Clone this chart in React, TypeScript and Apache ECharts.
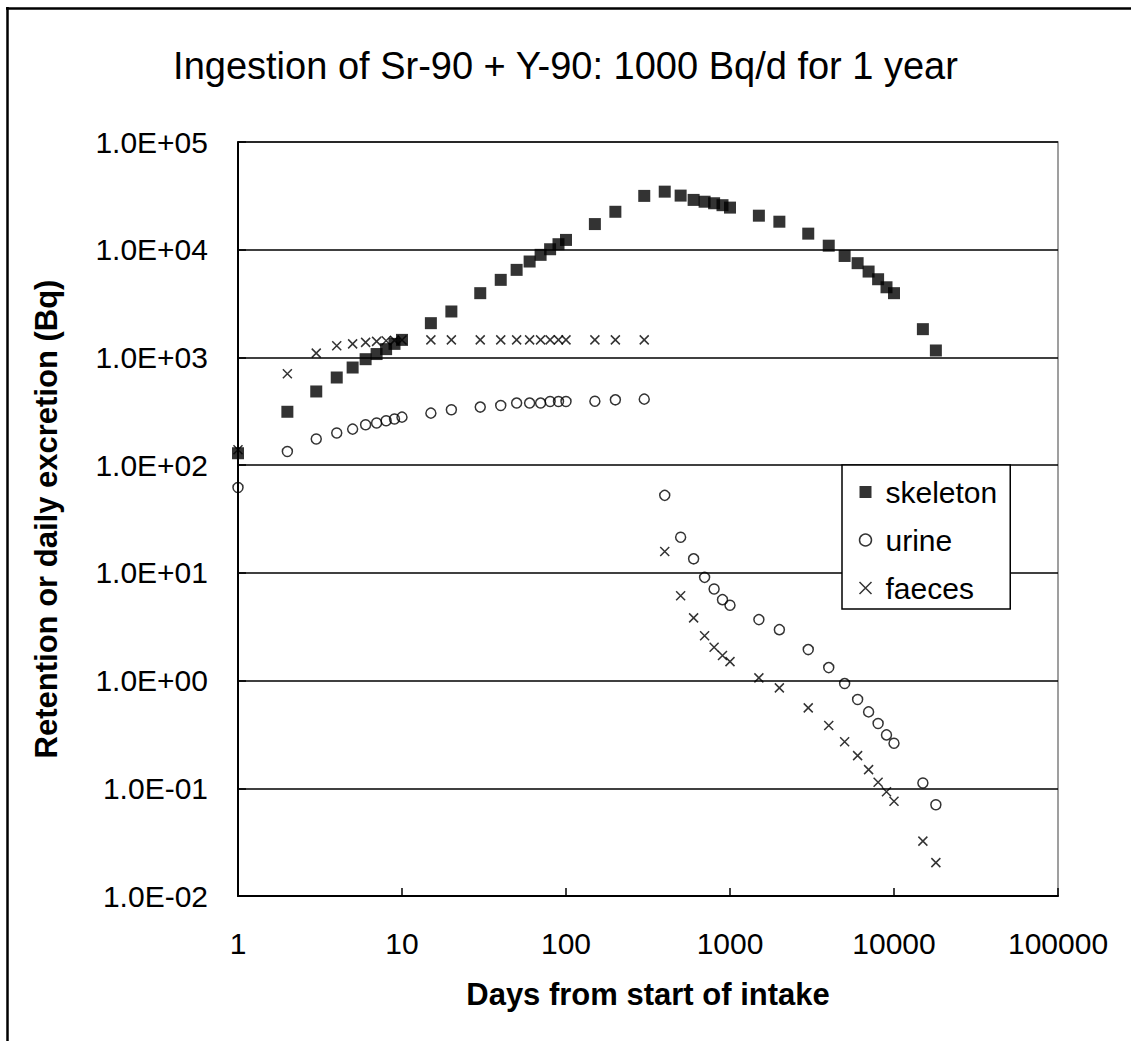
import React, { useEffect, useRef } from "react";
import * as echarts from "echarts";

const days = [1, 2, 3, 4, 5, 6, 7, 8, 9, 10, 15, 20, 30, 40, 50, 60, 70, 80, 90, 100, 150, 200, 300];
const daysAfter = [400, 500, 600, 700, 800, 900, 1000, 1500, 2000, 3000, 4000, 5000, 6000, 7000, 8000, 9000, 10000, 15000, 18000];

const skeletonIntake = [129, 313, 483, 651, 806, 963, 1075, 1194, 1336, 1455, 2080, 2670, 3950, 5250, 6500, 7770, 8960, 10100, 11250, 12330, 17300, 22500, 31600];
const skeletonAfter = [34600, 31800, 29000, 27900, 27000, 25900, 24600, 20700, 18200, 14100, 10900, 8750, 7500, 6270, 5320, 4480, 3950, 1830, 1160];

const urineIntake = [62, 134, 175, 199, 216, 237, 246, 258, 268, 279, 304, 327, 346, 358, 377, 377, 377, 390, 390, 390, 392, 404, 410];
const urineAfter = [52.4, 21.4, 13.5, 9.08, 7.09, 5.64, 5.0, 3.68, 2.97, 1.94, 1.32, 0.938, 0.667, 0.512, 0.399, 0.313, 0.262, 0.112, 0.0703];

const faecesIntake = [139, 705, 1096, 1282, 1336, 1380, 1410, 1430, 1440, 1450, 1455, 1455, 1455, 1455, 1455, 1455, 1455, 1455, 1455, 1455, 1455, 1455, 1455];
const faecesAfter = [15.8, 6.13, 3.82, 2.61, 2.04, 1.71, 1.5, 1.06, 0.855, 0.558, 0.383, 0.27, 0.201, 0.149, 0.114, 0.093, 0.0759, 0.0323, 0.0204];

const xTicks = [1, 10, 100, 1000, 10000, 100000];
const yTicks = [0.01, 0.1, 1, 10, 100, 1000, 10000, 100000];

const titleText = "Ingestion of Sr-90 + Y-90: 1000 Bq/d for 1 year";
const xName = "Days from start of intake";
const yName = "Retention or daily excretion (Bq)";
const seriesNames = ["skeleton", "urine", "faeces"];

function pairs(xs: number[], ys: number[]) {
  return xs.map((x, i) => [x, ys[i]]);
}

function sci(v: number) {
  const e = Math.round(Math.log10(v));
  const m = v / Math.pow(10, e);
  const sign = e < 0 ? "-" : "+";
  const ab = Math.abs(e);
  return m.toFixed(1) + "E" + sign + (ab < 10 ? "0" + ab : String(ab));
}

const FONT = "Liberation Sans, Arial, sans-serif";
const CROSS = "path://M0,0L10,10M10,0L0,10";

export default function App() {
  const ref = useRef<HTMLDivElement>(null);
  useEffect(() => {
    if (!ref.current) return;
    const chart = echarts.init(ref.current, undefined, { renderer: "svg" });
    const allDays = days.concat(daysAfter);
    chart.setOption({
      animation: false,
      backgroundColor: "#fff",
      textStyle: { fontFamily: FONT },
      title: {
        text: titleText,
        left: "center",
        top: 42,
        textStyle: { fontFamily: FONT, fontSize: 38, fontWeight: "normal", color: "#000" },
      },
      grid: {
        left: 238,
        right: 73,
        top: 142,
        bottom: 145,
        show: true,
        borderColor: "#808080",
        borderWidth: 1.5,
      },
      legend: {
        orient: "vertical",
        left: 842,
        top: 465,
        padding: [12, 13, 6, 15],
        itemGap: 18,
        itemWidth: 12,
        itemHeight: 12,
        borderColor: "#000",
        borderWidth: 1.5,
        backgroundColor: "#fff",
        textStyle: { fontFamily: FONT, fontSize: 30, color: "#000", lineHeight: 30, padding: [0, 0, 0, 9] },
        data: [
          { name: seriesNames[0], icon: "rect", itemStyle: { color: "#000", borderWidth: 0 } },
          { name: seriesNames[1], icon: "circle", itemStyle: { color: "#fff", borderColor: "#000", borderWidth: 1.5 } },
          { name: seriesNames[2], icon: CROSS, itemStyle: { color: "none", borderColor: "#000", borderWidth: 1.5 } },
        ],
      },
      xAxis: {
        type: "log",
        logBase: 10,
        min: xTicks[0],
        max: xTicks[xTicks.length - 1],
        name: xName,
        nameLocation: "middle",
        nameGap: 83,
        nameTextStyle: { fontFamily: FONT, fontSize: 31, fontWeight: "bold", color: "#000" },
        axisLine: { show: true, lineStyle: { color: "#000", width: 2 } },
        axisTick: { show: true, inside: true, length: 8, lineStyle: { color: "#000", width: 1.5 } },
        axisLabel: {
          fontFamily: FONT,
          fontSize: 30,
          color: "#000",
          margin: 32,
          formatter: (v: number) => String(Math.round(v)),
        },
        splitLine: { show: false },
        minorTick: { show: false },
      },
      yAxis: {
        type: "log",
        logBase: 10,
        min: yTicks[0],
        max: yTicks[yTicks.length - 1],
        axisLine: { show: true, lineStyle: { color: "#000", width: 2 } },
        axisTick: { show: true, inside: true, length: 8, lineStyle: { color: "#000", width: 1.5 } },
        axisLabel: {
          fontFamily: FONT,
          fontSize: 30,
          color: "#000",
          margin: 30,
          formatter: (v: number) => sci(v),
        },
        splitLine: { show: true, lineStyle: { color: "#000", width: 1.5 } },
        minorTick: { show: false },
      },
      series: [
        {
          name: seriesNames[0],
          type: "scatter",
          symbol: "rect",
          symbolSize: 12,
          itemStyle: { color: "#000" },
          data: pairs(allDays, skeletonIntake.concat(skeletonAfter)),
          z: 3,
        },
        {
          name: seriesNames[1],
          type: "scatter",
          symbol: "circle",
          symbolSize: 10,
          itemStyle: { color: "rgba(0,0,0,0)", borderColor: "#000", borderWidth: 1.5 },
          data: pairs(allDays, urineIntake.concat(urineAfter)),
          z: 4,
        },
        {
          name: seriesNames[2],
          type: "scatter",
          symbol: CROSS,
          symbolSize: 9,
          itemStyle: { color: "none", borderColor: "#000", borderWidth: 1.5 },
          data: pairs(allDays, faecesIntake.concat(faecesAfter)),
          z: 5,
        },
      ],
      graphic: [
        { type: "line", shape: { x1: 6, y1: 8.5, x2: 1131, y2: 8.5 }, style: { stroke: "#000", lineWidth: 2.5 } },
        { type: "line", shape: { x1: 7.5, y1: 7, x2: 7.5, y2: 1041 }, style: { stroke: "#000", lineWidth: 2.5 } },
        {
          type: "text",
          x: 46,
          y: 519,
          rotation: Math.PI / 2,
          style: {
            text: yName,
            fontFamily: FONT,
            fontSize: 31,
            fontWeight: "bold",
            fill: "#000",
            align: "center",
            verticalAlign: "middle",
          },
        },
      ],
    });
    return () => chart.dispose();
  }, []);
  return (
    <div
      ref={ref}
      style={{ position: "absolute", left: 0, top: 0, width: 1131, height: 1041 }}
    />
  );
}
